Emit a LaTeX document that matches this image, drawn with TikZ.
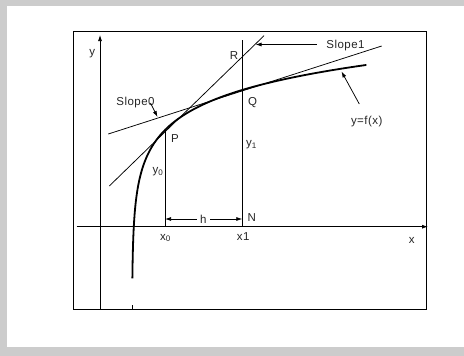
\documentclass[tikz,border=0pt]{standalone}
\usepackage{fontspec}
\setmainfont[LetterSpace=4]{Liberation Sans}
\usepackage{xcolor}
\usepackage{tikz}
\usetikzlibrary{positioning,arrows.meta,calc}

\begin{document}
\begin{tikzpicture}[x=1pt, y=-1pt,
    every node/.style={font=\fontsize{11.5}{13}\selectfont, text=black!85},
    thinline/.style={line width=0.75pt},
    arr/.style={line width=0.75pt, -{Latex[length=6pt,width=4pt]}}]

% Background and frame
\useasboundingbox (0,0) rectangle (464,356);
\fill[black!20] (0,0) rectangle (464,356);
\fill[white] (7,6) rectangle (464,347);
\draw[thinline] (73.3,31.7) rectangle (426,309.3);

% Axes
\coordinate (xstart) at (76.7,226.7);
\coordinate (xend) at (428,226.7);
\coordinate (ystart) at (100,309.3);
\coordinate (yend) at (100,35);
\draw[arr] (xstart) -- (xend);
\draw[arr] (ystart) -- (yend);
\node (lblX) at (411.7,240) {x};
\node (lblY) at (92.3,53.3) {y};
\draw[thinline] (132.7,305) -- (132.7,309.3); % asymptote tick

% Curve y=f(x)
\draw[line width=1.8pt] plot[domain=-0.97:5.458, samples=160, variable=\t]
    ({132+exp(\t)}, {246.1-33.2*\t});

% Points and ordinates
\coordinate (P) at (165,130);
\coordinate (Q) at (242.3,90);
\coordinate (footP) at (165,226.7);
\coordinate (footQ) at (242.3,226.7);
\coordinate (topQ) at (242.3,40);
\draw[thinline] (P) -- (footP);
\draw[thinline] (topQ) -- (footQ);

% Tangent lines
\coordinate (tanPa) at (109.3,186);
\coordinate (tanPb) at (264,35.7);
\coordinate (tanQa) at (108.3,134);
\coordinate (tanQb) at (381.7,46);
\draw[thinline] (tanPa) -- (tanPb);
\draw[thinline] (tanQa) -- (tanQb);

% Labels
\node (lblP) at (175,138.3) {P};
\node (lblQ) at (252.7,102.7) {Q};
\node (lblR) at (234,55.7) {R};
\node (lblN) at (251.7,217.7) {N};
\node (lblYzero) at (158,171.7) {y\textsubscript{0}};
\node (lblYone) at (251.5,145) {y\textsubscript{1}};
\node (lblXzero) at (165.5,238) {x\textsubscript{0}};
\node (lblXone) at (243.3,236.7) {x1};

% Step h
\node (lblH) at (203.3,219) {h};
\coordinate (hL) at (165,219);
\coordinate (hR) at (242.3,219);
\draw[arr] (lblH) -- (hL);
\draw[arr] (lblH) -- (hR);

% Slope callouts
\node (slopeOne) at (345.5,46) {Slope1};
\coordinate (s1tail) at (316.7,44.5);
\coordinate (s1tip) at (255.5,44.5);
\draw[arr] (s1tail) -- (s1tip);

\node (slopeZero) at (135.5,102.5) {Slope0};
\coordinate (s0tail) at (150.5,103);
\coordinate (s0tip) at (157.5,117);
\draw[arr] (s0tail) -- (s0tip);

\node (lblF) at (366.7,122) {y=f(x)};
\coordinate (ftail) at (359.3,104);
\coordinate (ftip) at (341.5,71.5);
\draw[arr] (ftail) -- (ftip);

\end{tikzpicture}
\end{document}
